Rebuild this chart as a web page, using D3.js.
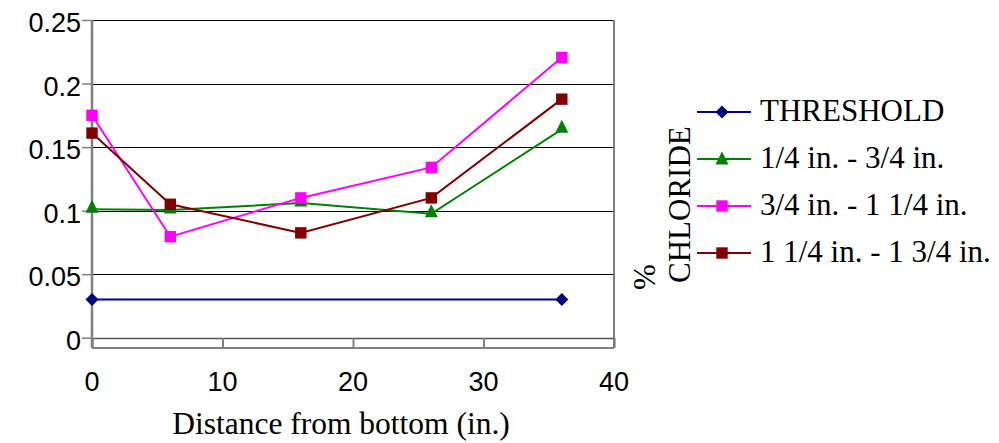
<!DOCTYPE html>
<html><head><meta charset="utf-8">
<script src="https://cdn.jsdelivr.net/npm/d3@7"></script>
<style>html,body{margin:0;padding:0;background:#fff;}svg{display:block;}</style>
</head><body>
<svg id="c" width="999" height="443"></svg>
<script>
const distances = [0, 6, 16, 26, 36];
const thresholdX = [0, 36];
const thresholdVals = [0.03, 0.03];
const quarterToThreeQuarter = [0.101, 0.1005, 0.106, 0.0975, 0.164];
const threeQuarterToOneQuarter = [0.175, 0.0795, 0.11, 0.134, 0.2205];
const oneQuarterToOneThreeQuarter = [0.161, 0.105, 0.0825, 0.11, 0.1877];
const yTicks = [0, 0.05, 0.1, 0.15, 0.2, 0.25];
const xTicks = [0, 10, 20, 30, 40];
const seriesNames = ["THRESHOLD", "1/4 in. - 3/4 in.", "3/4 in. - 1 1/4 in.", "1 1/4 in. - 1 3/4 in."];
const seriesColors = ["#000080", "#008000", "#FF00FF", "#800000"];
const seriesMarkers = ["diamond", "triangle", "square", "square"];

const series = [
  {name: seriesNames[0], color: seriesColors[0], marker: seriesMarkers[0], pts: thresholdX.map((x,i)=>[x, thresholdVals[i]])},
  {name: seriesNames[1], color: seriesColors[1], marker: seriesMarkers[1], pts: distances.map((x,i)=>[x, quarterToThreeQuarter[i]])},
  {name: seriesNames[2], color: seriesColors[2], marker: seriesMarkers[2], pts: distances.map((x,i)=>[x, threeQuarterToOneQuarter[i]])},
  {name: seriesNames[3], color: seriesColors[3], marker: seriesMarkers[3], pts: distances.map((x,i)=>[x, oneQuarterToOneThreeQuarter[i]])}
];

const svg = d3.select("#c");
const x = d3.scaleLinear().domain([0, 40]).range([92, 614]);
const y = d3.scaleLinear().domain([0, 0.25]).range([337.7, 20]);
const plotBottom = 348;

// gridlines
svg.append("g").selectAll("line").data(yTicks).join("line")
  .attr("x1", x(0)).attr("x2", x(40))
  .attr("y1", d => Math.round(y(d)) + 0.5).attr("y2", d => Math.round(y(d)) + 0.5)
  .attr("stroke", "#000").attr("stroke-width", 1);

// plot border right & bottom
svg.append("line").attr("x1", x(40)).attr("x2", x(40)).attr("y1", y(0.25)).attr("y2", plotBottom)
  .attr("stroke", "#808080").attr("stroke-width", 2);
svg.append("line").attr("x1", x(0)).attr("x2", x(40)).attr("y1", plotBottom).attr("y2", plotBottom)
  .attr("stroke", "#808080").attr("stroke-width", 2);

// x axis at y=0 with ticks downward
const xAxis = d3.axisBottom(x).tickValues(xTicks).tickSize(plotBottom - Math.round(y(0)) ).tickFormat("");
const gx = svg.append("g").attr("transform", `translate(0,${Math.round(y(0))})`).call(xAxis);
gx.select(".domain").attr("stroke", "#555").attr("stroke-width", 1.5);
gx.selectAll(".tick line").attr("stroke", "#808080").attr("stroke-width", 2);

// y axis
const yAxis = d3.axisLeft(y).tickValues(yTicks).tickSize(10).tickFormat("");
const gy = svg.append("g").attr("transform", `translate(${x(0)},0)`).call(yAxis);
gy.select(".domain").attr("d", `M0,${y(0.25)}V${plotBottom}`).attr("stroke", "#808080").attr("stroke-width", 2.5);
gy.selectAll(".tick line").attr("stroke", "#808080").attr("stroke-width", 1.5);

// tick labels
svg.append("g").selectAll("text").data(yTicks).join("text")
  .attr("x", 81).attr("y", d => y(d) + 12)
  .attr("text-anchor", "end")
  .style("font-family", "'Liberation Sans', Arial, sans-serif").style("font-size", "27px")
  .text(d => d3.format("")(d));
svg.append("g").selectAll("text").data(xTicks).join("text")
  .attr("x", d => x(d)).attr("y", 391)
  .attr("text-anchor", "middle")
  .style("font-family", "'Liberation Sans', Arial, sans-serif").style("font-size", "27px")
  .text(d => d);

// axis titles
svg.append("text").attr("x", 341).attr("y", 434).attr("text-anchor", "middle")
  .style("font-family", "'Liberation Serif', 'Times New Roman', serif").style("font-size", "31.5px")
  .text("Distance from bottom (in.)");
svg.append("text").attr("transform", "translate(655,290) rotate(-90)")
  .style("font-family", "'Liberation Serif', 'Times New Roman', serif").style("font-size", "31px")
  .text("%");
svg.append("text").attr("transform", "translate(690,283) rotate(-90)")
  .style("font-family", "'Liberation Serif', 'Times New Roman', serif").style("font-size", "31px")
  .text("CHLORIDE");

function markerPath(type) {
  if (type === "diamond") return "M0,-6.5L6.5,0L0,6.5L-6.5,0Z";
  if (type === "triangle") return "M0,-9.5L6.5,3.5L-6.5,3.5Z";
  return "M-5.7,-5.7H5.7V5.7H-5.7Z";
}

const line = d3.line().x(d => x(d[0])).y(d => y(d[1]));
series.forEach(s => {
  const g = svg.append("g");
  g.append("path").attr("d", line(s.pts)).attr("fill", "none")
    .attr("stroke", s.color).attr("stroke-width", 2);
  g.selectAll("path.m").data(s.pts).join("path").attr("class", "m")
    .attr("transform", d => `translate(${x(d[0])},${y(d[1])})`)
    .attr("d", markerPath(s.marker)).attr("fill", s.color);
});

// legend
const legendY = d3.scalePoint().domain(seriesNames).range([112, 253]);
const lg = svg.append("g");
series.forEach(s => {
  const ly = legendY(s.name);
  lg.append("line").attr("x1", 697).attr("x2", 751).attr("y1", ly).attr("y2", ly)
    .attr("stroke", s.color).attr("stroke-width", 2);
  lg.append("path").attr("transform", `translate(722,${ly + (s.marker === "triangle" ? 2 : 0)})`)
    .attr("d", markerPath(s.marker)).attr("fill", s.color);
  lg.append("text").attr("x", 760).attr("y", ly + 8.5)
    .style("font-family", "'Liberation Serif', 'Times New Roman', serif").style("font-size", "31px")
    .text(s.name);
});
</script>
</body></html>
